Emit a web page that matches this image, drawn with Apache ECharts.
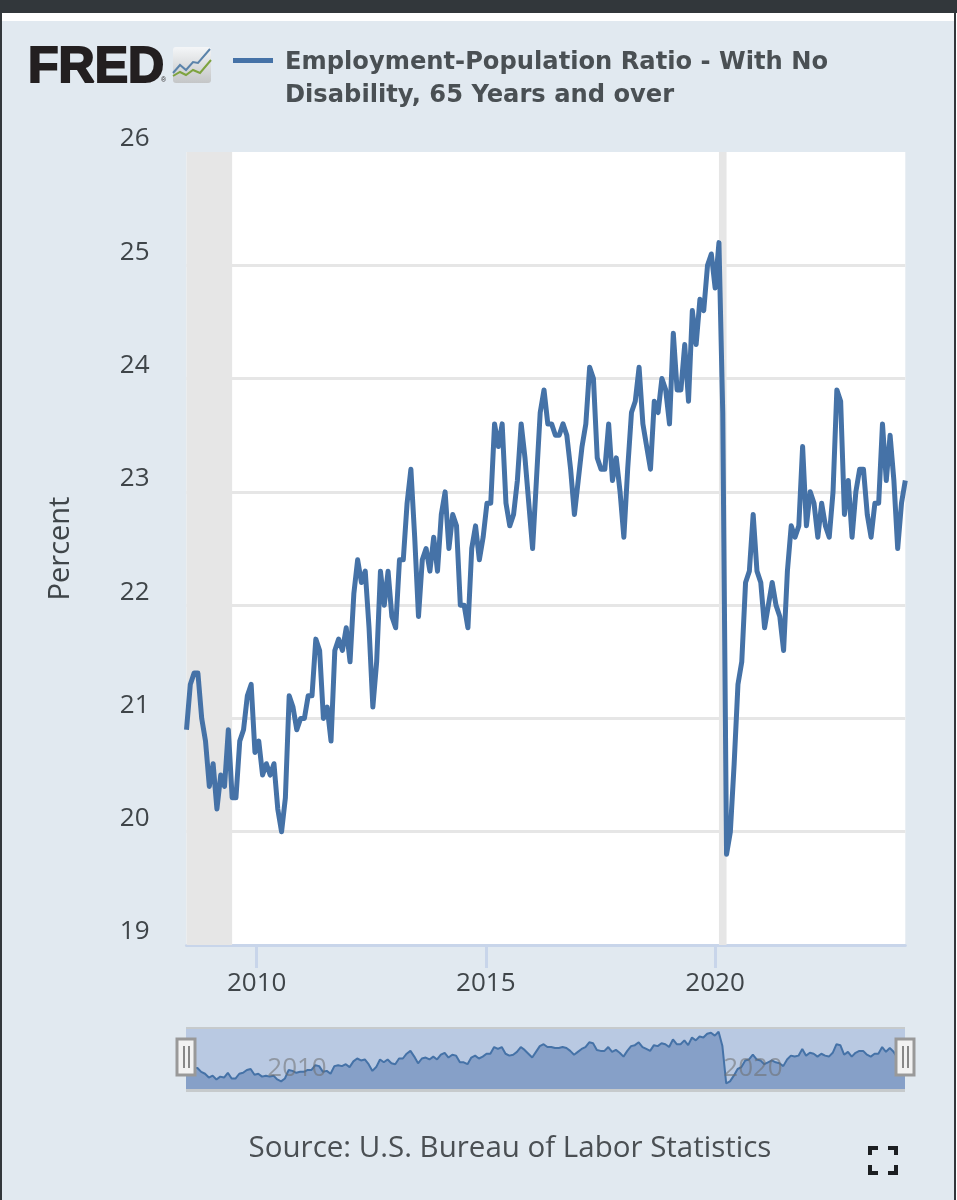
<!DOCTYPE html>
<html>
<head>
<meta charset="utf-8">
<title>FRED chart</title>
<script src="https://cdn.jsdelivr.net/npm/echarts@6/dist/echarts.min.js"></script>
<style>
  html, body { margin: 0; padding: 0; background: #e1e9f0; }
  #chart { width: 957px; height: 1200px; }
</style>
</head>
<body>
<div id="chart"></div>
<script>
// monthly values, first one is 2008-06
const values = [
  20.9, 21.3, 21.4, 21.4, 21.0, 20.8, 20.4, 20.6, 20.2, 20.5, 20.4, 20.9, 20.3, 20.3, 20.8, 20.9,
  21.2, 21.3, 20.7, 20.8, 20.5, 20.6, 20.5, 20.6, 20.2, 20.0, 20.3, 21.2, 21.1, 20.9, 21.0, 21.0,
  21.2, 21.2, 21.7, 21.6, 21.0, 21.1, 20.8, 21.6, 21.7, 21.6, 21.8, 21.5, 22.1, 22.4, 22.2, 22.3,
  21.8, 21.1, 21.5, 22.3, 22.0, 22.3, 21.9, 21.8, 22.4, 22.4, 22.9, 23.2, 22.6, 21.9, 22.4, 22.5,
  22.3, 22.6, 22.3, 22.8, 23.0, 22.5, 22.8, 22.7, 22.0, 22.0, 21.8, 22.5, 22.7, 22.4, 22.6, 22.9,
  22.9, 23.6, 23.4, 23.6, 22.9, 22.7, 22.8, 23.1, 23.6, 23.3, 22.9, 22.5, 23.1, 23.7, 23.9, 23.6,
  23.6, 23.5, 23.5, 23.6, 23.5, 23.2, 22.8, 23.1, 23.4, 23.6, 24.1, 24.0, 23.3, 23.2, 23.2, 23.6,
  23.1, 23.3, 23.0, 22.6, 23.2, 23.7, 23.8, 24.1, 23.6, 23.4, 23.2, 23.8, 23.7, 24.0, 23.9, 23.6,
  24.4, 23.9, 23.9, 24.3, 23.8, 24.6, 24.3, 24.7, 24.6, 25.0, 25.1, 24.8, 25.2, 23.7, 19.8, 20.0,
  20.6, 21.3, 21.5, 22.2, 22.3, 22.8, 22.3, 22.2, 21.8, 22.0, 22.2, 22.0, 21.9, 21.6, 22.3, 22.7,
  22.6, 22.7, 23.4, 22.7, 23.0, 22.9, 22.6, 22.9, 22.7, 22.6, 23.0, 23.9, 23.8, 22.8, 23.1, 22.6,
  23.0, 23.2, 23.2, 22.8, 22.6, 22.9, 22.9, 23.6, 23.1, 23.5, 23.1, 22.5, 22.9, 23.1
]
const months = values.map((v, i) => {
  const d = new Date(Date.UTC(2008, 5 + i, 1))
  return d.getUTCFullYear() + '-' + String(d.getUTCMonth() + 1).padStart(2, '0')
})
const recessions = [['2008-06', '2009-06'], ['2020-02', '2020-04']]
const yearTicks = [Date.UTC(2010, 0, 1), Date.UTC(2015, 0, 1), Date.UTC(2020, 0, 1)]
const seriesName = 'Employment-Population Ratio - With No\nDisability, 65 Years and over'
const sourceText = 'Source: U.S. Bureau of Labor Statistics'

const LINE = '#4572a7'
const TEXT = '#3f4549'
const FONT = '"Open Sans", sans-serif'
const AXIS = '#c8d5ea'

const rect = (x, y, width, height, fill, extra) => ({
  type: 'rect', shape: { x, y, width, height }, style: { fill }, z: 100, ...extra
})

// navigator handles
const handle = (x) => ({
  type: 'group', z: 100, children: [
    { type: 'rect', z: 100, shape: { x, y: 1039, width: 18, height: 36 }, style: { fill: '#f2f2f2', stroke: '#999', lineWidth: 3 } },
    { type: 'rect', z: 101, shape: { x: x + 6, y: 1046, width: 2, height: 22 }, style: { fill: '#888' } },
    { type: 'rect', z: 101, shape: { x: x + 11, y: 1046, width: 2, height: 22 }, style: { fill: '#888' } }
  ]
})

// corner bracket of the fullscreen icon
const corner = (points) => ({
  type: 'polyline', z: 100, shape: { points },
  style: { stroke: '#1c1f22', lineWidth: 4, fill: null }
})

const navLabel = (text, x) => ({
  type: 'text', z: 100, style: { text, x, y: 1069, align: 'center', verticalAlign: 'middle',
    font: '26px ' + FONT, fill: 'rgba(110,110,110,0.55)' }
})

const option = {
  backgroundColor: '#e1e9f0',
  animation: false,
  title: [{
    text: seriesName, left: 280, top: 41,
    textStyle: { fontFamily: '"DejaVu Sans", sans-serif', fontSize: 24.2, fontWeight: 'bold', color: '#4a5054', lineHeight: 33 }
  }, {
    text: sourceText, left: 505, top: 1124, textAlign: 'center',
    textStyle: { fontFamily: FONT, fontSize: 29.5, fontWeight: 400, color: '#4a4f53', lineHeight: 40 }
  }],
  grid: [
    { left: 186.5, top: 152, width: 718.8, height: 793, show: true, backgroundColor: '#fff', borderWidth: 0 },
    { left: 186, top: 1028, width: 719, height: 61, show: true, backgroundColor: '#b9c9e2', borderWidth: 0 }
  ],
  xAxis: [
    {
      // visible date axis in milliseconds, only carries the year ticks
      type: 'value', gridIndex: 0,
      min: Date.UTC(2008, 5, 21), max: Date.UTC(2024, 1, 25),
      splitLine: { show: false },
      axisLine: { show: true, lineStyle: { color: AXIS, width: 3 } },
      axisTick: { show: true, customValues: yearTicks, length: 23, lineStyle: { color: AXIS, width: 3 } },
      axisLabel: {
        customValues: yearTicks, margin: 26, fontFamily: FONT, fontSize: 26, color: TEXT,
        formatter: (v) => String(new Date(v).getUTCFullYear())
      }
    },
    { type: 'category', gridIndex: 0, data: months, boundaryGap: false, show: false },
    { type: 'category', gridIndex: 1, data: months, boundaryGap: false, show: false }
  ],
  yAxis: [
    {
      type: 'value', gridIndex: 0, min: 19, max: 26, interval: 1,
      name: 'Percent', nameLocation: 'middle', nameGap: 111,
      nameTextStyle: { fontFamily: FONT, fontSize: 29, color: TEXT },
      axisLine: { show: false }, axisTick: { show: false },
      axisLabel: { margin: 37, verticalAlign: 'bottom', fontFamily: FONT, fontSize: 26, color: TEXT },
      splitLine: { showMinLine: false, showMaxLine: false, lineStyle: { color: '#e6e6e6', width: 3 } }
    },
    { type: 'value', gridIndex: 1, min: 19.2, max: 25.6, show: false }
  ],
  series: [
    {
      name: seriesName, type: 'line', xAxisIndex: 1, yAxisIndex: 0, data: values,
      showSymbol: false, lineStyle: { color: LINE, width: 5, join: 'round' }, z: 5,
      markArea: {
        silent: true, itemStyle: { color: '#e6e6e6' },
        data: recessions.map(([a, b]) => [{ xAxis: a }, { xAxis: b }])
      }
    },
    {
      type: 'line', xAxisIndex: 2, yAxisIndex: 1, data: values,
      showSymbol: false, lineStyle: { color: LINE, width: 2 },
      areaStyle: { color: '#86a0c8', opacity: 1, origin: 'start' }
    }
  ],
  graphic: [
    // window frame of the screenshot
    rect(0, 0, 957, 13, '#32373b'),
    rect(2, 13, 952, 8, '#ffffff'),
    rect(0, 13, 2, 1187, '#32373b'),
    rect(954, 13, 2, 1187, '#32373b'),
    rect(956, 13, 1, 1187, '#ffffff'),
    // logo
    {
      type: 'text', z: 100, style: { text: 'FRED', x: 28, y: 68, verticalAlign: 'middle',
        font: 'bold 50px "Liberation Sans", sans-serif', fill: '#231f20', stroke: '#231f20', lineWidth: 2 }
    },
    {
      type: 'text', z: 100, style: { text: '®', x: 161, y: 80, verticalAlign: 'middle',
        font: '7px "Liberation Sans", sans-serif', fill: '#231f20' }
    },
    {
      type: 'rect', z: 100, shape: { x: 173, y: 47, width: 38, height: 36, r: 3 },
      style: { fill: { type: 'linear', x: 0, y: 0, x2: 0, y2: 1, colorStops: [{ offset: 0, color: '#f4f6f8' }, { offset: 1, color: '#c4c6c7' }] } }
    },
    { type: 'polyline', z: 101, shape: { points: [[173, 73], [180, 65], [186, 70], [193, 62], [198, 63], [210, 49]] }, style: { stroke: '#5b83aa', lineWidth: 2, fill: null } },
    { type: 'polyline', z: 101, shape: { points: [[173, 76], [180, 72], [186, 75], [193, 70], [200, 73], [211, 60]] }, style: { stroke: '#7ea33f', lineWidth: 2, fill: null } },
    // legend swatch
    rect(233, 58, 40, 5, LINE),
    // navigator frame
    rect(186, 1027, 719, 2, '#c6cacc'),
    rect(186, 1089, 719, 3, '#c6cacc'),
    navLabel('2010', 297),
    navLabel('2020', 753),
    handle(177),
    handle(896),
    // fullscreen icon
    corner([[870, 1155], [870, 1148], [878, 1148]]),
    corner([[888, 1148], [896, 1148], [896, 1155]]),
    corner([[870, 1165], [870, 1173], [878, 1173]]),
    corner([[888, 1173], [896, 1173], [896, 1165]])
  ]
}

const instance = echarts.init(document.getElementById('chart'), null, { renderer: 'canvas' })
instance.setOption(option)
</script>
</body>
</html>
